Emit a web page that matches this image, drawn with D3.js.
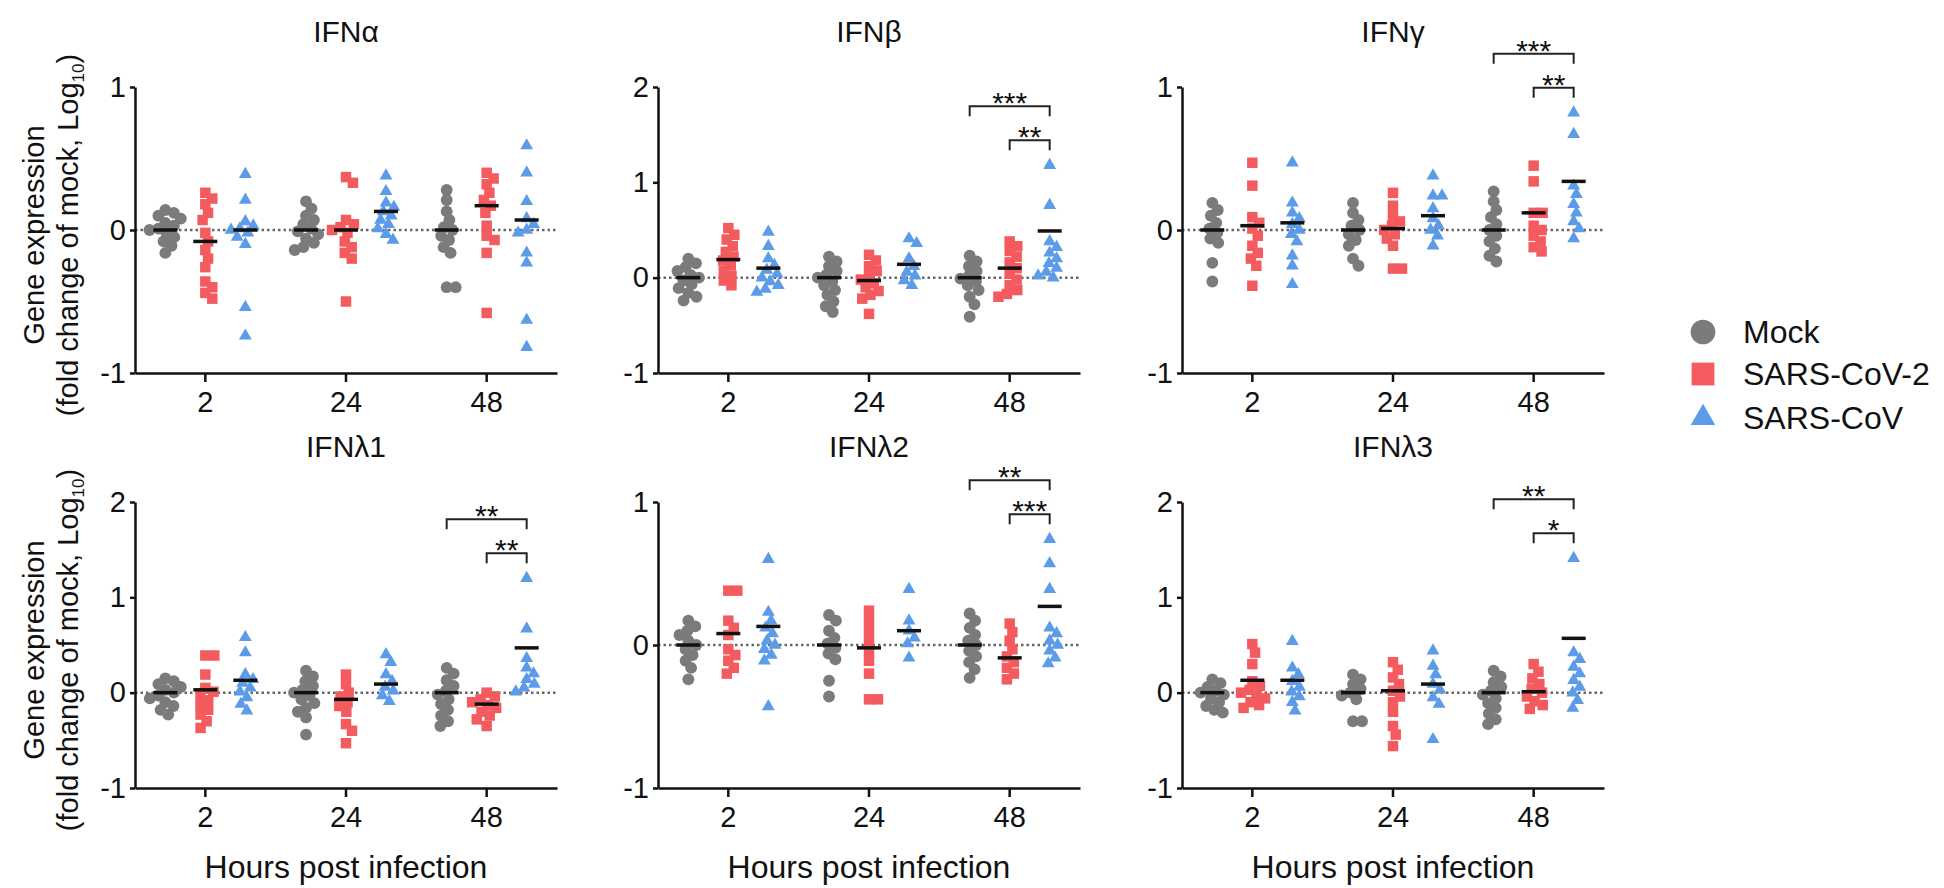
<!DOCTYPE html>
<html>
<head>
<meta charset="utf-8">
<script src="https://cdn.jsdelivr.net/npm/d3@7"></script>
<style>
  body { margin: 0; background: #fff; }
  svg { font-family: "Liberation Sans", Arial, sans-serif; }
</style>
</head>
<body>
<svg id="chart" width="1944" height="888"></svg>
<script>
(function (d3) {
    'use strict';

    // ---- data (log10 fold change of mock) ----
    var panels = ['IFNα', 'IFNβ', 'IFNγ', 'IFNλ1', 'IFNλ2', 'IFNλ3'];
    var yMax = [1, 2, 1, 2, 1, 2];
    var hours = ['2', '24', '48'];
    var groups = ['Mock', 'SARS-CoV-2', 'SARS-CoV'];

    // each: [hour][group] -> values
    var ifnA = [
        [[0.14, 0.12, 0.1, 0.08, 0.05, 0.03, 0.01, 0, -0.02, -0.05, -0.08, -0.11, -0.16],
         [0.26, 0.22, 0.18, 0.12, 0.07, -0.02, -0.08, -0.14, -0.2, -0.26, -0.36, -0.4, -0.44, -0.48],
         [0.39, 0.21, 0.06, 0.03, 0.01, 0, -0.02, -0.05, -0.1, -0.54, -0.74]],
        [[0.2, 0.15, 0.1, 0.07, 0.04, 0.01, -0.01, -0.03, -0.06, -0.09, -0.12, -0.14],
         [0.37, 0.33, 0.07, 0.04, 0.02, 0, -0.02, -0.08, -0.12, -0.16, -0.2, -0.5],
         [0.38, 0.27, 0.19, 0.16, 0.13, 0.1, 0.07, 0.04, 0.01, -0.03, -0.07]],
        [[0.28, 0.21, 0.13, 0.07, 0.02, 0, -0.04, -0.07, -0.12, -0.16, -0.4, -0.4],
         [0.4, 0.36, 0.32, 0.26, 0.21, 0.17, 0.12, 0.03, -0.04, -0.07, -0.16, -0.58],
         [0.59, 0.4, 0.2, 0.08, 0.04, 0, -0.02, -0.16, -0.23, -0.63, -0.82]]
    ];
    var ifnB = [
        [[0.2, 0.15, 0.11, 0.07, 0.03, 0, -0.03, -0.07, -0.11, -0.16, -0.2, -0.24],
         [0.52, 0.45, 0.4, 0.33, 0.27, 0.22, 0.18, 0.13, 0.07, 0.02, -0.03, -0.08],
         [0.48, 0.33, 0.2, 0.13, 0.08, 0.04, 0, -0.04, -0.08, -0.12, -0.15]],
        [[0.22, 0.17, 0.12, 0.07, 0.03, 0, -0.04, -0.08, -0.13, -0.18, -0.25, -0.3, -0.36],
         [0.24, 0.18, 0.12, 0.07, 0.02, -0.02, -0.06, -0.1, -0.14, -0.18, -0.22, -0.38],
         [0.41, 0.36, 0.2, 0.12, 0.06, 0.02, -0.03, -0.08]],
        [[0.23, 0.17, 0.12, 0.07, 0.02, -0.01, -0.04, -0.08, -0.13, -0.2, -0.28, -0.41],
         [0.38, 0.33, 0.28, 0.22, 0.16, 0.1, 0.04, -0.02, -0.08, -0.13, -0.17, -0.2],
         [1.18, 0.76, 0.38, 0.32, 0.26, 0.2, 0.15, 0.1, 0.06, 0.02, 0]]
    ];
    var ifnG = [
        [[0.19, 0.14, 0.1, 0.05, 0.01, -0.02, -0.06, -0.09, -0.23, -0.36],
         [0.47, 0.31, 0.09, 0.05, 0.01, -0.04, -0.11, -0.16, -0.2, -0.25, -0.39],
         [0.47, 0.19, 0.12, 0.08, 0.04, 0, -0.03, -0.08, -0.18, -0.25, -0.38]],
        [[0.19, 0.12, 0.07, 0.03, 0, -0.03, -0.07, -0.11, -0.2, -0.25],
         [0.26, 0.17, 0.1, 0.06, 0.03, 0, -0.03, -0.06, -0.11, -0.27, -0.27],
         [0.38, 0.24, 0.24, 0.15, 0.08, 0.03, 0, -0.04, -0.11]],
        [[0.27, 0.2, 0.14, 0.09, 0.04, 0, -0.04, -0.08, -0.13, -0.18, -0.22],
         [0.45, 0.34, 0.12, 0.12, 0.03, 0, -0.04, -0.08, -0.12, -0.15],
         [0.82, 0.67, 0.31, 0.25, 0.18, 0.12, 0.06, 0.01, -0.06]]
    ];
    var ifnL1 = [
        [[0.15, 0.12, 0.09, 0.06, 0.03, 0, -0.03, -0.06, -0.1, -0.14, -0.18, -0.23],
         [0.39, 0.39, 0.19, 0.05, 0.01, -0.03, -0.08, -0.13, -0.18, -0.23, -0.3, -0.37],
         [0.58, 0.42, 0.19, 0.14, 0.1, 0.05, 0.01, -0.05, -0.12, -0.19]],
        [[0.23, 0.17, 0.12, 0.07, 0.03, 0, -0.03, -0.07, -0.11, -0.16, -0.2, -0.26, -0.44],
         [0.19, 0.09, 0, -0.04, -0.1, -0.14, -0.2, -0.33, -0.4, -0.53],
         [0.4, 0.32, 0.19, 0.12, 0.06, 0.02, -0.03, -0.09]],
        [[0.26, 0.2, 0.13, 0.07, 0.02, -0.02, -0.07, -0.12, -0.18, -0.24, -0.3, -0.35],
         [0, -0.04, -0.07, -0.1, -0.13, -0.16, -0.2, -0.24, -0.28, -0.35],
         [1.2, 0.67, 0.36, 0.26, 0.2, 0.14, 0.09, 0.05, 0.01]]
    ];
    var ifnL2 = [
        [[0.17, 0.13, 0.1, 0.07, 0.03, 0, -0.03, -0.07, -0.11, -0.16, -0.24],
         [0.38, 0.38, 0.17, 0.12, 0.07, -0.03, -0.07, -0.11, -0.16, -0.2],
         [0.6, 0.23, 0.17, 0.12, 0.08, 0.03, 0, -0.03, -0.07, -0.11, -0.43]],
        [[0.21, 0.17, 0.1, 0.05, 0.01, -0.02, -0.06, -0.1, -0.25, -0.36],
         [0.24, 0.17, 0.1, 0.03, -0.04, -0.11, -0.2, -0.38, -0.38],
         [0.39, 0.17, 0.1, 0.05, 0.01, -0.09]],
        [[0.22, 0.17, 0.12, 0.07, 0.03, 0, -0.04, -0.08, -0.12, -0.17, -0.23],
         [0.15, 0.09, 0.03, -0.03, -0.08, -0.12, -0.16, -0.2, -0.24],
         [0.74, 0.57, 0.39, 0.12, 0.08, 0.03, 0, -0.04, -0.09, -0.13]]
    ];
    var ifnL3 = [
        [[0.14, 0.1, 0.06, 0.02, 0, -0.02, -0.06, -0.1, -0.14, -0.18, -0.21],
         [0.51, 0.42, 0.3, 0.12, 0.07, 0.03, 0, -0.03, -0.06, -0.1, -0.13, -0.16],
         [0.54, 0.26, 0.19, 0.12, 0.06, 0.01, -0.04, -0.1, -0.19]],
        [[0.19, 0.14, 0.09, 0.04, 0, -0.03, -0.07, -0.3, -0.3],
         [0.32, 0.24, 0.16, 0.09, 0.02, -0.04, -0.1, -0.2, -0.35, -0.44, -0.56],
         [0.44, 0.28, 0.19, 0.09, 0.03, -0.05, -0.12, -0.49]],
        [[0.23, 0.17, 0.11, 0.06, 0.02, -0.02, -0.06, -0.11, -0.16, -0.22, -0.28, -0.33],
         [0.3, 0.22, 0.15, 0.09, 0.04, 0, -0.04, -0.09, -0.13, -0.17],
         [1.41, 0.42, 0.35, 0.27, 0.2, 0.13, 0.06, 0, -0.08, -0.16]]
    ];

    // summary bar of each group, [hour][group]
    var ifnAMid = [[0, -0.08, 0], [0, 0, 0.13], [0, 0.17, 0.07]];
    var ifnBMid = [[0, 0.19, 0.1], [0, -0.03, 0.14], [0, 0.1, 0.49]];
    var ifnGMid = [[0, 0.03, 0.05], [0, 0.01, 0.1], [0, 0.12, 0.34]];
    var ifnL1Mid = [[0, 0.03, 0.13], [0, -0.07, 0.09], [0, -0.12, 0.47]];
    var ifnL2Mid = [[0, 0.08, 0.13], [0, -0.02, 0.1], [0, -0.09, 0.27]];
    var ifnL3Mid = [[0, 0.13, 0.13], [0, 0.02, 0.09], [0, 0.01, 0.57]];

    // 48 h comparisons: Mock vs SARS-CoV (outer), SARS-CoV-2 vs SARS-CoV (inner)
    var starsOuter = ['', '***', '***', '**', '**', '**'];
    var starsInner = ['', '**', '**', '**', '***', '*'];

    var allData = [ifnA, ifnB, ifnG, ifnL1, ifnL2, ifnL3];
    var allMid = [ifnAMid, ifnBMid, ifnGMid, ifnL1Mid, ifnL2Mid, ifnL3Mid];

    // ---- layout ----
    var colX = [135, 658, 1182],
        rowY = [87, 502],
        plotW = 422,
        plotH = 286,
        colors = ['#7b7b7b', '#f35b5e', '#5b9be8'],
        shapes = [d3.symbolCircle, d3.symbolSquare, d3.symbolTriangle],
        sizes = [110, 110, 72];

    var svg = d3.select('#chart');

    // simple beeswarm: keep points of one group from stacking on each other
    function swarm(vals, y, gap) {
        var placed = [];
        vals.map(function (v) { return { v: v, y: y(v) }; })
            .sort(function (a, b) { return a.y - b.y; })
            .forEach(function (p) {
                var cands = [0];
                placed.forEach(function (q) {
                    var dy = Math.abs(q.y - p.y);
                    if (dy < gap) {
                        var w = Math.sqrt(gap * gap - dy * dy);
                        cands.push(q.dx + w, q.dx - w);
                    }
                });
                cands.sort(function (a, b) { return Math.abs(a) - Math.abs(b); });
                for (var c = 0; c < cands.length; c++) {
                    var ok = placed.every(function (q) {
                        return Math.hypot(q.dx - cands[c], q.y - p.y) >= gap - 0.01;
                    });
                    if (ok) { p.dx = cands[c]; break; }
                }
                placed.push(p);
            });
        return placed;
    }

    panels.forEach(function (name, i) {
        var col = i % 3, row = Math.floor(i / 3);
        var g = svg.append('g')
            .attr('transform', 'translate(' + colX[col] + ',' + rowY[row] + ')');

        var x = d3.scaleBand().domain(hours).range([0, plotW]);
        var xg = d3.scalePoint().domain(groups).range([-40, 40]);
        var y = d3.scaleLinear().domain([-1, yMax[i]]).range([plotH, 0]);

        function cx(h, k) { return x(hours[h]) + x.bandwidth() / 2 + xg(groups[k]); }

        // dotted zero line
        g.append('line')
            .attr('x1', 0).attr('x2', plotW)
            .attr('y1', y(0)).attr('y2', y(0))
            .attr('stroke', '#666')
            .attr('stroke-width', 2.5)
            .attr('stroke-dasharray', '2.5,3');

        allData[i].forEach(function (byGroup, h) {
            byGroup.forEach(function (vals, k) {
                var pts = swarm(vals, y, 9);
                g.append('g').selectAll('path')
                    .data(pts)
                    .enter()
                    .append('path')
                    .attr('d', d3.symbol().type(shapes[k]).size(sizes[k]))
                    .attr('transform', function (d) {
                        return 'translate(' + (cx(h, k) + d.dx) + ',' + d.y + ')';
                    })
                    .attr('fill', colors[k]);

                var m = allMid[i][h][k];
                g.append('line')
                    .attr('x1', cx(h, k) - 12).attr('x2', cx(h, k) + 12)
                    .attr('y1', y(m)).attr('y2', y(m))
                    .attr('stroke', '#111')
                    .attr('stroke-width', 3.5);
            });
        });

        // axes
        var yAxis = g.append('g')
            .call(d3.axisLeft(y)
                .tickValues(d3.range(-1, yMax[i] + 1))
                .tickFormat(function (d) { return String(d); })
                .tickSize(5).tickPadding(4).tickSizeOuter(0));
        var xAxis = g.append('g')
            .attr('transform', 'translate(0,' + plotH + ')')
            .call(d3.axisBottom(x).tickSize(9).tickPadding(9).tickSizeOuter(0));
        [yAxis, xAxis].forEach(function (a) {
            a.selectAll('path, line').attr('stroke', '#111').attr('stroke-width', 2.5);
            a.selectAll('text').attr('fill', '#111').style('font-size', '29px');
        });

        // title
        g.append('text')
            .attr('x', plotW / 2).attr('y', -45)
            .attr('text-anchor', 'middle')
            .style('font-size', '30px')
            .attr('fill', '#111')
            .text(name);

        if (row === 1) {
            g.append('text')
                .attr('x', plotW / 2).attr('y', plotH + 90)
                .attr('text-anchor', 'middle')
                .style('font-size', '32px')
                .attr('fill', '#111')
                .text('Hours post infection');
        }

        if (col === 0) {
            var yl = g.append('text')
                .attr('transform', 'translate(-91,' + (plotH / 2 + 5) + ') rotate(-90)')
                .attr('text-anchor', 'middle')
                .style('font-size', '29px')
                .attr('fill', '#111');
            yl.append('tspan').attr('x', 0).attr('y', 0).text('Gene expression');
            var l2 = yl.append('tspan').attr('x', 0).attr('y', 34);
            l2.append('tspan').text('(fold change of mock, Log');
            l2.append('tspan').style('font-size', '17px').attr('dy', 6).text('10');
            l2.append('tspan').attr('dy', -6).text(')');
        }

        // significance brackets at 48 h
        if (starsOuter[i]) {
            var top = d3.min([1, 2], function (k) { return y(d3.max(allData[i][2][k])); });
            var inner = top - 25, outer = inner - 34;
            [[0, outer, starsOuter[i]], [1, inner, starsInner[i]]].forEach(function (b) {
                var x1 = cx(2, b[0]), x2 = cx(2, 2), by = b[1];
                g.append('path')
                    .attr('d', 'M' + x1 + ',' + (by + 10) + 'V' + by + 'H' + x2 + 'V' + (by + 10))
                    .attr('fill', 'none')
                    .attr('stroke', '#222')
                    .attr('stroke-width', 2);
                g.append('text')
                    .attr('x', (x1 + x2) / 2).attr('y', by + 7)
                    .attr('text-anchor', 'middle')
                    .style('font-size', '30px')
                    .attr('fill', '#111')
                    .text(b[2]);
            });
        }
    });

    // legend
    var legendSizes = [480, 520, 260];
    var legend = svg.append('g').attr('transform', 'translate(1703,332)');
    groups.forEach(function (name, k) {
        var ly = [0, 42, 86][k];
        legend.append('path')
            .attr('d', d3.symbol().type(shapes[k]).size(legendSizes[k]))
            .attr('transform', 'translate(0,' + ly + ')')
            .attr('fill', colors[k]);
        legend.append('text')
            .attr('x', 40).attr('y', ly)
            .attr('dy', '0.35em')
            .style('font-size', '32px')
            .attr('fill', '#111')
            .text(name);
    });
})(d3);
</script>
</body>
</html>
